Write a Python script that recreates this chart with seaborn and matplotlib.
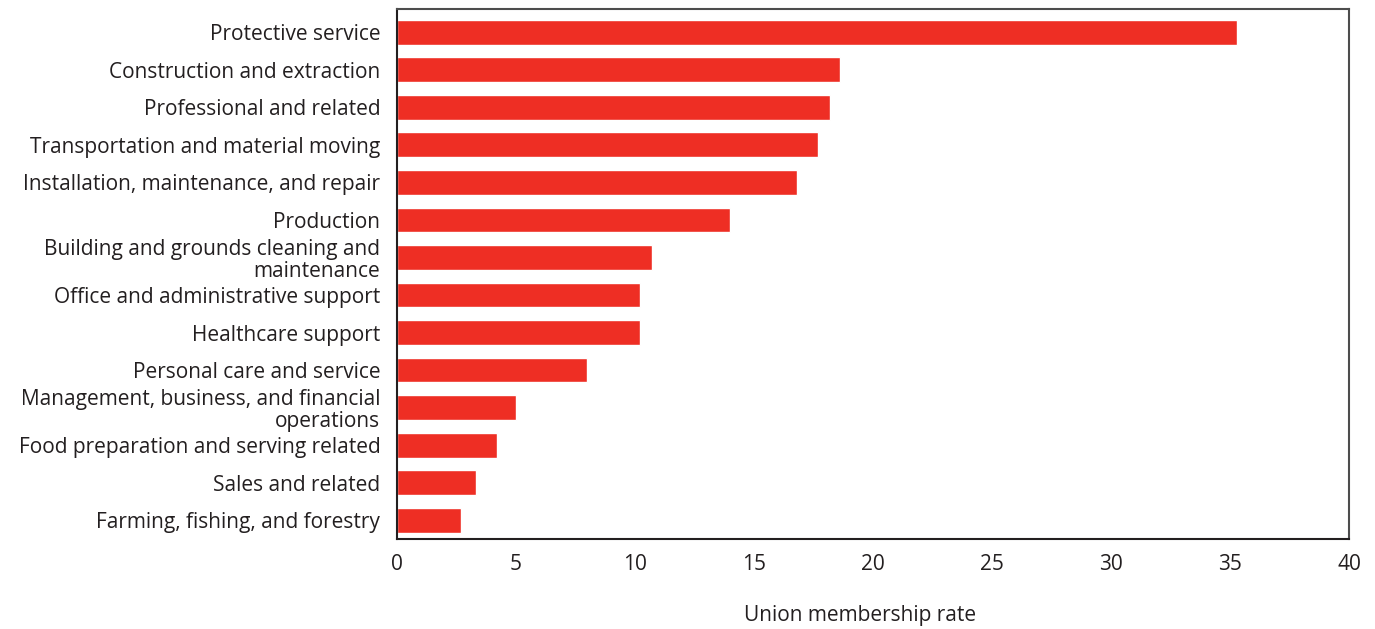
import matplotlib
matplotlib.use("Agg")
import matplotlib.pyplot as plt
import seaborn as sns
import pandas as pd

# occupations, top to bottom
occupations = [
    "Protective service",
    "Construction and extraction",
    "Professional and related",
    "Transportation and material moving",
    "Installation, maintenance, and repair",
    "Production",
    "Building and grounds cleaning and\nmaintenance",
    "Office and administrative support",
    "Healthcare support",
    "Personal care and service",
    "Management, business, and financial\noperations",
    "Food preparation and serving related",
    "Sales and related",
    "Farming, fishing, and forestry",
]
rates = [35.3, 18.6, 18.2, 17.7, 16.8, 14.0, 10.7, 10.2, 10.2, 8.0, 5.0, 4.2, 3.3, 2.7]
x_ticks = [0, 5, 10, 15, 20, 25, 30, 35, 40]

sns.set_theme(style="white")
plt.rcParams['font.family'] = ['Open Sans', 'DejaVu Sans']

df = pd.DataFrame({"occupation": occupations, "rate": rates})

fig = plt.figure(figsize=(13.75, 6.29), dpi=100)
ax = fig.add_axes([397 / 1375, 1 - 539 / 629, (1349 - 397) / 1375, (539 - 9) / 629])

sns.barplot(data=df, x="rate", y="occupation", color="#ee2e24", saturation=1,
            width=0.66, ax=ax)

ax.set_xlim(0, 40)
ax.set_ylim(13.5, -0.62)
ax.set_xticks(x_ticks)
ax.set_xticklabels([str(t) for t in x_ticks], fontsize=15, color="#231f20")
ax.tick_params(axis="x", direction="in", length=5, width=1, color="#231f20", pad=11)
ax.tick_params(axis="y", length=0, labelsize=15, labelcolor="#231f20", pad=12)
for lbl in ax.get_yticklabels():
    lbl.set_linespacing(1.05)
ax.set_ylabel("")
ax.set_xlabel("Union membership rate", fontsize=15, color="#231f20")
ax.xaxis.set_label_coords(0.486, -0.125)

for side in ["left", "bottom"]:
    ax.spines[side].set_color("#231f20")
    ax.spines[side].set_linewidth(1.5)
for side in ["top", "right"]:
    ax.spines[side].set_color("#4d4d4d")
    ax.spines[side].set_linewidth(1.5)

fig.savefig("out.png", dpi=100)
